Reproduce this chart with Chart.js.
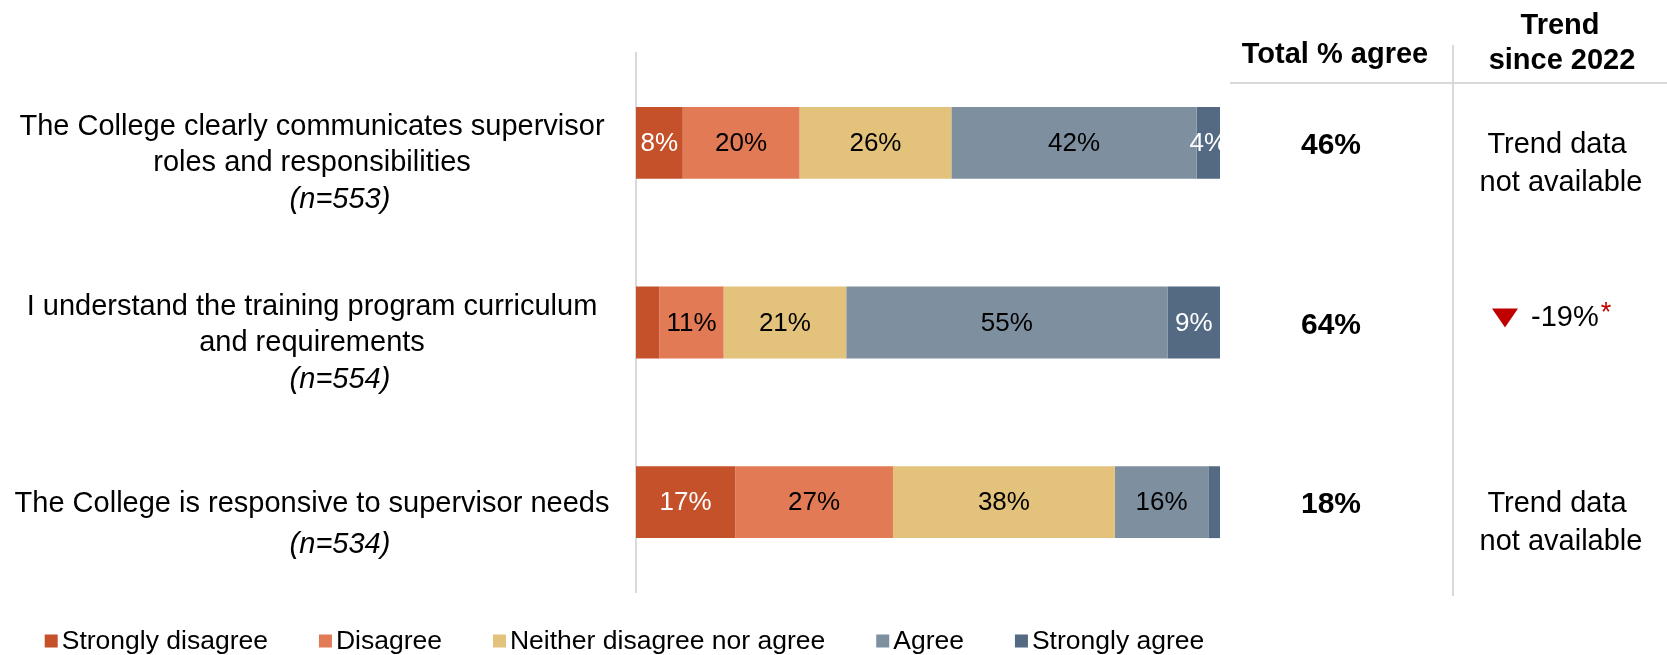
<!DOCTYPE html>
<html>
<head>
<meta charset="utf-8">
<script src="https://cdn.jsdelivr.net/npm/chart.js@4.4.1/dist/chart.umd.min.js"></script>
<style>
  html, body { margin: 0; padding: 0; background: #ffffff; }
  #wrap { width: 1667px; height: 655px; position: relative; }
</style>
</head>
<body>
<div id="wrap"><canvas id="chart" width="1667" height="655"></canvas></div>
<script>
// Survey statements (wrapped lines) and respondent counts
const questions = [
  ['The College clearly communicates supervisor', 'roles and responsibilities'],
  ['I understand the training program curriculum', 'and requirements'],
  ['The College is responsive to supervisor needs']
];
const sampleSizes = ['(n=553)', '(n=554)', '(n=534)'];

// Response categories, in stacking order
const seriesNames = ['Strongly disagree', 'Disagree', 'Neither disagree nor agree', 'Agree', 'Strongly agree'];
const seriesColors = ['#C4512A', '#E27A55', '#E3C27C', '#7E8FA0', '#546A83'];
const seriesLabelColors = ['#ffffff', '#000000', '#000000', '#000000', '#ffffff'];

// Percent of respondents per statement
const stronglyDisagree = [8, 4, 17];
const disagree = [20, 11, 27];
const neither = [26, 21, 38];
const agree = [42, 55, 16];
const stronglyAgree = [4, 9, 2];

// Segments printed without a value label: [series index, statement index]
const unlabelled = [[0, 1], [4, 2]];

// Right-hand summary columns
const totalAgree = [46, 64, 18];
const trendSince2022 = [null, -19, null];
const trendSignificant = [false, true, false];

const FONT = "'Liberation Sans', Arial, Helvetica, sans-serif";
const GRID = '#d9d9d9';

const seriesValues = [stronglyDisagree, disagree, neither, agree, stronglyAgree];

function font(size, weight, style) {
  return (style || 'normal') + ' ' + (weight || 'normal') + ' ' + size + 'px ' + FONT;
}

// Draws value labels, statement labels, summary columns and the legend
const panelPlugin = {
  id: 'panel',
  afterDatasetsDraw(chart) {
    const ctx = chart.ctx;
    ctx.save();
    ctx.textAlign = 'center';
    ctx.textBaseline = 'middle';
    ctx.font = font(26);
    chart.data.datasets.forEach((ds, si) => {
      const meta = chart.getDatasetMeta(si);
      meta.data.forEach((bar, ri) => {
        if (unlabelled.some(p => p[0] === si && p[1] === ri)) return;
        const cx = (bar.x + bar.base) / 2;
        ctx.fillStyle = seriesLabelColors[si];
        ctx.fillText(ds.data[ri] + '%', cx, bar.y + 1);
      });
    });
    ctx.restore();
  },
  afterDraw(chart) {
    const ctx = chart.ctx;
    const yScale = chart.scales.y;
    ctx.save();
    ctx.textBaseline = 'middle';
    ctx.textAlign = 'center';
    ctx.fillStyle = '#000000';

    // statement labels on the left
    questions.forEach((lines, i) => {
      const cy = yScale.getPixelForValue(i) + 2;
      const y0 = cy - (lines.length - 1) * 18;
      ctx.font = font(29);
      lines.forEach((t, k) => ctx.fillText(t, 312, y0 + k * 36));
      ctx.font = font(29, 'normal', 'italic');
      const gap = lines.length === 1 ? 41 : 37;
      ctx.fillText(sampleSizes[i], 340, y0 + (lines.length - 1) * 36 + gap);
    });

    // table rules
    ctx.strokeStyle = GRID;
    ctx.lineWidth = 2;
    ctx.beginPath();
    ctx.moveTo(1230, 83); ctx.lineTo(1667, 83);
    ctx.moveTo(1453, 45); ctx.lineTo(1453, 596);
    ctx.stroke();

    // column headers
    ctx.font = font(29, 'bold');
    ctx.fillText('Total % agree', 1335, 55);
    ctx.fillText('Trend', 1560, 26);
    ctx.fillText('since 2022', 1562, 61);

    // column values
    totalAgree.forEach((v, i) => {
      const cy = yScale.getPixelForValue(i);
      ctx.font = font(30, 'bold');
      ctx.fillStyle = '#000000';
      ctx.textAlign = 'center';
      ctx.fillText(v + '%', 1331, cy + 3);

      const tr = trendSince2022[i];
      if (tr === null) {
        ctx.font = font(29);
        ctx.fillText('Trend data', 1557, cy + 2);
        ctx.fillText('not available', 1561, cy + 40);
      } else {
        const ty = cy - 5;
        ctx.fillStyle = tr < 0 ? '#C00000' : '#00A651';
        ctx.beginPath();
        if (tr < 0) {
          ctx.moveTo(1492, ty - 9); ctx.lineTo(1518, ty - 9); ctx.lineTo(1505, ty + 10);
        } else {
          ctx.moveTo(1492, ty + 9); ctx.lineTo(1518, ty + 9); ctx.lineTo(1505, ty - 10);
        }
        ctx.closePath();
        ctx.fill();
        ctx.fillStyle = '#000000';
        ctx.textAlign = 'left';
        ctx.font = font(29);
        const txt = (tr > 0 ? '+' : '') + tr + '%';
        ctx.fillText(txt, 1531, ty);
        if (trendSignificant[i]) {
          const w = ctx.measureText(txt).width;
          ctx.fillStyle = '#C00000';
          ctx.font = font(27);
          ctx.fillText('*', 1531 + w + 2, ty - 4);
        }
      }
    });

    // legend
    ctx.textAlign = 'left';
    ctx.font = font(26.5);
    let lx = 44.7;
    const ly = 641;
    chart.data.datasets.forEach((ds) => {
      ctx.fillStyle = ds.backgroundColor;
      ctx.fillRect(lx, ly - 6.5, 13, 13);
      ctx.fillStyle = '#000000';
      ctx.fillText(ds.label, lx + 17, ly + 1);
      lx += 17 + ctx.measureText(ds.label).width + 51;
    });
    ctx.restore();
  }
};

Chart.defaults.font.family = FONT;

new Chart(document.getElementById('chart'), {
  type: 'bar',
  data: {
    labels: questions.map(q => q.join(' ')),
    datasets: seriesNames.map((name, i) => ({
      label: name,
      data: seriesValues[i],
      backgroundColor: seriesColors[i],
      borderWidth: 0,
      categoryPercentage: 1,
      barPercentage: 0.4
    }))
  },
  options: {
    indexAxis: 'y',
    responsive: false,
    animation: false,
    layout: { padding: { top: 53, bottom: 63, left: 0, right: 447 } },
    scales: {
      x: { stacked: true, min: 0, max: 100, display: false },
      y: {
        stacked: true,
        grid: { display: false },
        ticks: { display: false },
        border: { display: true, color: GRID, width: 2 },
        afterFit(scale) { scale.width = 636; }
      }
    },
    plugins: {
      legend: { display: false },
      tooltip: { enabled: false }
    }
  },
  plugins: [panelPlugin]
});
</script>
</body>
</html>
